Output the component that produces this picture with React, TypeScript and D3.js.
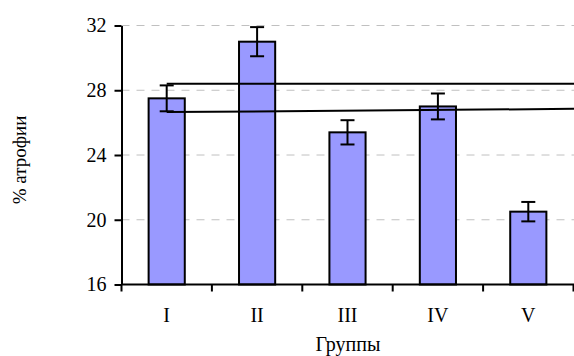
import { useEffect, useRef } from "react";
import * as d3 from "d3";

const groups = ["I", "II", "III", "IV", "V"];
const means = [27.5, 31.0, 25.4, 27.0, 20.5];
const errors = [0.8, 0.9, 0.75, 0.8, 0.6];
const yTicks = [16, 20, 24, 28, 32];
// two reference lines drawn from group I to the right edge: [start value, end value]
const refLineStart = [28.4, 26.65];
const refLineEnd = [28.4, 26.85];

function App() {
  const ref = useRef<SVGSVGElement | null>(null);
  const width = 574;
  const height = 356;
  const margin = { top: 25.5, right: 0.5, bottom: 71.5, left: 121.5 };

  useEffect(() => {
    const svg = d3.select(ref.current);
    svg.selectAll("*").remove();

    const font = "Liberation Serif, Times New Roman, DejaVu Serif, serif";

    const x = d3
      .scaleBand()
      .domain(groups)
      .range([margin.left, width - margin.right])
      .paddingInner(0.6)
      .paddingOuter(0.3);

    const y = d3
      .scaleLinear()
      .domain([16, 32])
      .range([height - margin.bottom, margin.top]);

    // dashed grid
    svg
      .append("g")
      .selectAll("line")
      .data(yTicks.filter((t) => t > 16))
      .enter()
      .append("line")
      .attr("x1", margin.left)
      .attr("x2", width)
      .attr("y1", (d) => y(d))
      .attr("y2", (d) => y(d))
      .attr("stroke", "#c0c0c0")
      .attr("stroke-width", 1)
      .attr("stroke-dasharray", "8,7");

    // bars
    svg
      .append("g")
      .selectAll("rect")
      .data(means)
      .enter()
      .append("rect")
      .attr("x", (d, i) => x(groups[i])!)
      .attr("y", (d) => y(d))
      .attr("width", x.bandwidth())
      .attr("height", (d) => y(16) - y(d))
      .attr("fill", "#9999ff")
      .attr("stroke", "#000")
      .attr("stroke-width", 2);

    // error bars
    const eb = svg.append("g").attr("stroke", "#000").attr("stroke-width", 2);
    means.forEach((m, i) => {
      const cx = x(groups[i])! + x.bandwidth() / 2;
      const lo = y(m - errors[i]);
      const hi = y(m + errors[i]);
      eb.append("line").attr("x1", cx).attr("x2", cx).attr("y1", lo).attr("y2", hi);
      eb.append("line").attr("x1", cx - 7).attr("x2", cx + 7).attr("y1", lo).attr("y2", lo);
      eb.append("line").attr("x1", cx - 7).attr("x2", cx + 7).attr("y1", hi).attr("y2", hi);
    });

    // reference lines
    const startX = x(groups[0])! + x.bandwidth() / 2;
    refLineStart.forEach((v, i) => {
      svg
        .append("line")
        .attr("x1", startX)
        .attr("x2", width)
        .attr("y1", y(v))
        .attr("y2", y(refLineEnd[i]))
        .attr("stroke", "#000")
        .attr("stroke-width", 2);
    });

    // y axis
    const yAxis = svg
      .append("g")
      .attr("transform", `translate(${margin.left},0)`)
      .call(d3.axisLeft(y).tickValues(yTicks).tickSize(7).tickSizeOuter(0).tickPadding(8));
    yAxis.select(".domain").attr("stroke-width", 2);
    yAxis.selectAll(".tick line").attr("stroke-width", 2);
    yAxis
      .selectAll(".tick text")
      .attr("font-family", font)
      .attr("font-size", 20)
      .attr("fill", "#000");

    // x axis line + ticks at band boundaries
    const xAxis = svg.append("g");
    xAxis
      .append("line")
      .attr("x1", margin.left)
      .attr("x2", width)
      .attr("y1", y(16))
      .attr("y2", y(16))
      .attr("stroke", "#000")
      .attr("stroke-width", 2);
    const step = x.step();
    const bounds = d3.range(groups.length + 1).map((i) => margin.left + i * step);
    xAxis
      .selectAll("line.tk")
      .data(bounds)
      .enter()
      .append("line")
      .attr("class", "tk")
      .attr("x1", (d) => d)
      .attr("x2", (d) => d)
      .attr("y1", y(16))
      .attr("y2", y(16) + 7)
      .attr("stroke", "#000")
      .attr("stroke-width", 2);
    xAxis
      .selectAll("text")
      .data(groups)
      .enter()
      .append("text")
      .attr("x", (d) => x(d)! + x.bandwidth() / 2)
      .attr("y", 322)
      .attr("text-anchor", "middle")
      .attr("font-family", font)
      .attr("font-size", 20)
      .text((d) => d);

    // axis titles
    svg
      .append("text")
      .attr("x", 348)
      .attr("y", 351)
      .attr("text-anchor", "middle")
      .attr("font-family", font)
      .attr("font-size", 20)
      .text("Группы");

    svg
      .append("text")
      .attr("transform", "translate(26,160) rotate(-90)")
      .attr("text-anchor", "middle")
      .attr("font-family", font)
      .attr("font-size", 19)
      .text("% атрофии");
  }, []);

  return (
    <svg
      ref={ref}
      width={width}
      height={height}
      style={{ position: "absolute", left: 0, top: 0, background: "#fff" }}
    ></svg>
  );
}

export default App;
